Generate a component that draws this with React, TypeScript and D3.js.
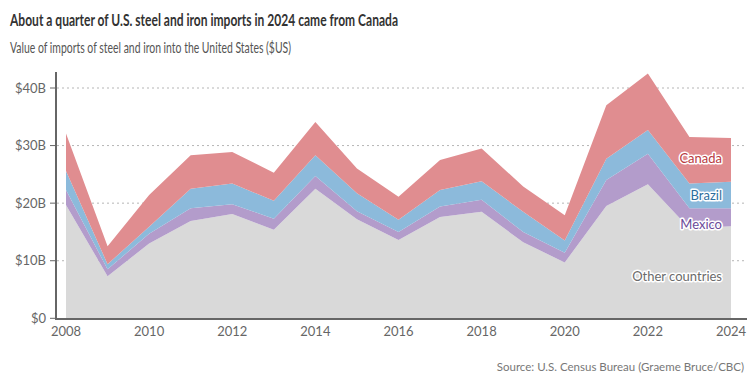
import React from "react";
import * as d3 from "d3";

const years = [2008, 2009, 2010, 2011, 2012, 2013, 2014, 2015, 2016, 2017, 2018, 2019, 2020, 2021, 2022, 2023, 2024];
const other = [19.7, 7.3, 13.0, 16.9, 18.1, 15.4, 22.5, 17.2, 13.6, 17.6, 18.5, 13.2, 9.7, 19.5, 23.3, 15.6, 16.0];
const mexico = [2.6, 1.2, 1.7, 2.2, 1.7, 1.9, 2.2, 1.4, 1.4, 1.8, 2.1, 1.8, 1.7, 4.5, 5.3, 3.5, 3.1];
const brazil = [3.3, 0.9, 1.2, 3.4, 3.6, 3.1, 3.6, 3.1, 2.1, 2.9, 3.2, 3.5, 2.1, 3.7, 4.1, 4.3, 4.6];
const canada = [6.5, 3.1, 5.5, 5.8, 5.5, 4.9, 5.8, 4.3, 4.0, 5.2, 5.7, 4.4, 4.4, 9.3, 9.8, 8.1, 7.6];
const seriesNames = ["Other countries", "Mexico", "Brazil", "Canada"];
const yTicks = [0, 10, 20, 30, 40];
const xTicks = [2008, 2010, 2012, 2014, 2016, 2018, 2020, 2022, 2024];

const fills: Record<string, string> = {
  "Other countries": "#d9d9d9",
  Mexico: "#b39ccb",
  Brazil: "#8cbadb",
  Canada: "#e08d90",
};
const labelColors: Record<string, string> = {
  "Other countries": "#6b6b6b",
  Mexico: "#6a4a9a",
  Brazil: "#2c6e9e",
  Canada: "#b83a40",
};

const W = 751;
const H = 377;
const FONT = "Lato, 'Open Sans', sans-serif";

export default function App() {
  const table = years.map((y, i) => ({
    year: y,
    "Other countries": other[i],
    Mexico: mexico[i],
    Brazil: brazil[i],
    Canada: canada[i],
  }));
  const stack = d3.stack<any>().keys(seriesNames);
  const layers = stack(table);

  const x = d3.scaleLinear().domain([2008, 2024]).range([66, 731]);
  const y = d3.scaleLinear().domain([0, 40]).range([318.3, 88]);
  const area = d3
    .area<any>()
    .x((d) => x(d.data.year))
    .y0((d) => y(d[0]))
    .y1((d) => y(d[1]));

  const last = table.length - 1;
  const labelY = (name: string) => {
    const L = layers.find((l) => l.key === name)!;
    const d = L[last];
    return (y(d[0]) + y(d[1])) / 2;
  };
  const labelPos: Record<string, number> = {
    Canada: labelY("Canada") - 2,
    Brazil: labelY("Brazil"),
    Mexico: labelY("Mexico") + 7,
    "Other countries": y(7.2),
  };

  return (
    <svg width={W} height={H} style={{ position: "absolute", left: 0, top: 0, fontFamily: FONT }}>
      <text x={10} y={26} fontSize={17.5} fontWeight={700} fill="#333" textLength={388} lengthAdjust="spacingAndGlyphs">
        About a quarter of U.S. steel and iron imports in 2024 came from Canada
      </text>
      <text x={10} y={53} fontSize={15} fill="#555" textLength={281} lengthAdjust="spacingAndGlyphs">
        Value of imports of steel and iron into the United States ($US)
      </text>

      {yTicks.map((t) =>
        t > 0 ? (
          <line key={"g" + t} x1={57} x2={746} y1={y(t)} y2={y(t)} stroke="#b5b5b5" strokeWidth={1} strokeDasharray="2,3" />
        ) : null
      )}

      {layers.map((L) => (
        <path key={L.key} d={area(L) || ""} fill={fills[L.key]} />
      ))}

      {yTicks.map((t) => (
        <g key={"yt" + t}>
          <line x1={50} x2={56} y1={y(t)} y2={y(t)} stroke="#666" strokeWidth={1} />
          <text x={46} y={y(t)} dy="0.35em" textAnchor="end" fontSize={13} fill="#666">
            {t === 0 ? "$0" : `$${t}B`}
          </text>
        </g>
      ))}

      <line x1={56} x2={56} y1={72} y2={319.5} stroke="#666" strokeWidth={2} />
      <line x1={55} x2={747} y1={319} y2={319} stroke="#666" strokeWidth={2} />

      {xTicks.map((t) => (
        <text key={"xt" + t} x={x(t)} y={336} textAnchor="middle" fontSize={13} fill="#666">
          {t}
        </text>
      ))}

      {seriesNames.map((name) => (
        <text
          key={"lab" + name}
          x={722}
          y={labelPos[name]}
          dy="0.35em"
          textAnchor="end"
          fontSize={13}
          fill={labelColors[name]}
          stroke="#fff"
          strokeWidth={3}
          paintOrder="stroke"
          strokeLinejoin="round"
        >
          {name}
        </text>
      ))}

      <text x={744} y={371} textAnchor="end" fontSize={11.5} fill="#777">
        Source: U.S. Census Bureau (Graeme Bruce/CBC)
      </text>
    </svg>
  );
}
